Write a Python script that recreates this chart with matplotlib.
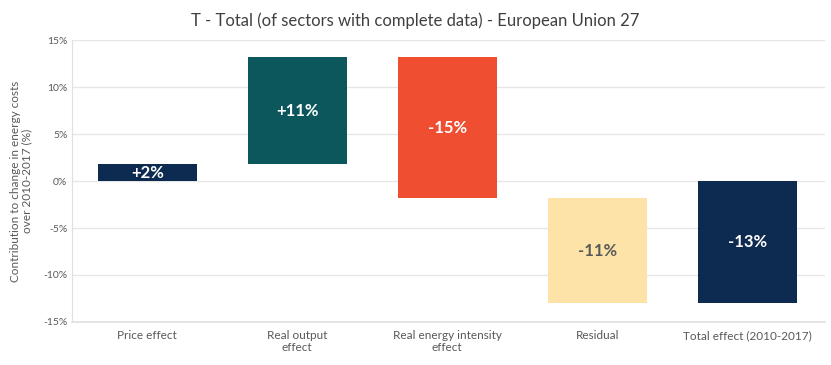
import matplotlib
matplotlib.use('Agg')
import matplotlib.pyplot as plt
import numpy as np

# data (values in %)
categories = ['Price effect', 'Real output\neffect', 'Real energy intensity\neffect',
              'Residual', 'Total effect (2010-2017)']
effects = [1.8, 11.4, -15.0, -11.2]
labels = ['+2%', '+11%', '-15%', '-11%', '-13%']
colors = ['#0d2a50', '#0b575b', '#ef4e31', '#fde3a8', '#0d2a50']
label_colors = ['white', 'white', 'white', '#5a5a5a', 'white']
yticks = [-15, -10, -5, 0, 5, 10, 15]

plt.rcParams['font.family'] = ['Lato', 'DejaVu Sans']

total = sum(effects)
bottoms = list(np.concatenate([[0], np.cumsum(effects)[:-1]])) + [0]
heights = effects + [total]

fig = plt.figure(figsize=(8.31, 3.65), dpi=100)
ax = fig.add_axes([0.087, 0.118, 0.906, 0.772])

x = np.arange(len(categories))
ax.bar(x, heights, bottom=bottoms, width=0.66, color=colors, zorder=3)

for i, (b, h) in enumerate(zip(bottoms, heights)):
    ax.text(i, b + h / 2, labels[i], ha='center', va='center', fontsize=12,
            fontweight='bold', color=label_colors[i], zorder=4)

ax.set_xlim(-0.5, 4.52)
ax.set_ylim(-15, 15)
ax.set_yticks(yticks)
ax.set_yticklabels([f'{t}%' for t in yticks])
ax.set_xticks(x)
ax.set_xticklabels(categories, fontsize=8.5, linespacing=1.1)
ax.tick_params(axis='both', length=0, colors='#595959')
ax.tick_params(axis='y', labelsize=7.5)
ax.tick_params(axis='x', pad=6)
ax.grid(axis='y', color='#e6e6e6', linewidth=1, zorder=0)

for s in ['top', 'right']:
    ax.spines[s].set_visible(False)
ax.spines['left'].set_color('#e0e0e0')
ax.spines['bottom'].set_color('#e0e0e0')
ax.spines['bottom'].set_linewidth(1.2)

ax.set_ylabel('Contribution to change in energy costs\nover 2010-2017 (%)',
              fontsize=8.5, color='#595959', labelpad=8, linespacing=1.05)
fig.suptitle('T - Total (of sectors with complete data) - European Union 27',
             fontsize=12, color='#404040', y=0.965)

fig.savefig('out.png', dpi=100)
